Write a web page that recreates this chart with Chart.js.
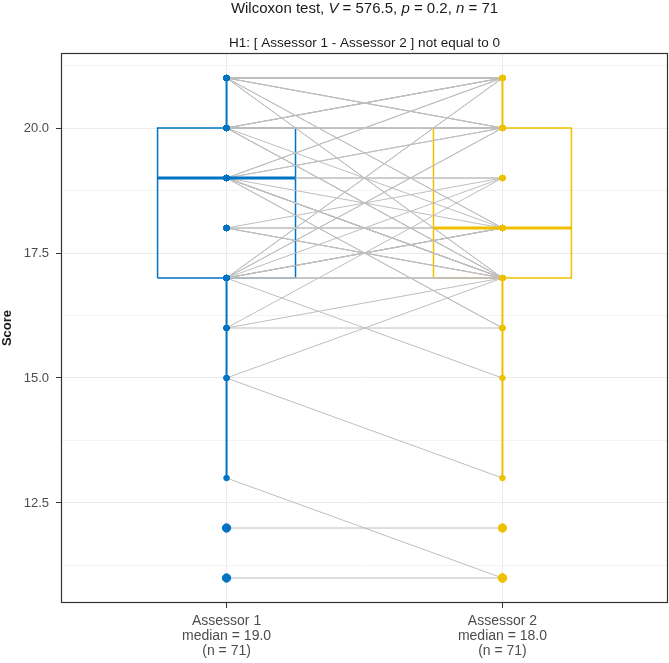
<!DOCTYPE html>
<html>
<head>
<meta charset="utf-8">
<script src="https://cdn.jsdelivr.net/npm/chart.js@4.4.0/dist/chart.umd.min.js"></script>
<style>
  html, body { margin: 0; padding: 0; background: #fff; }
</style>
</head>
<body>
<canvas id="chart" width="669" height="663"></canvas>
<script>
// paired scores, same index = same subject
const groups = ['Assessor 1', 'Assessor 2'];
const assessor1 = [
  21, 21, 21, 21, 21, 21, 21, 21, 21, 21, 21, 21, 21, 21, 21,
  20, 20, 20, 20, 20, 20, 20, 20, 20, 20, 20, 20,
  19, 19, 19, 19, 19, 19, 19, 19, 19, 19, 19, 19, 19, 19, 19, 19,
  18, 18, 18, 18, 18, 18,
  17, 17, 17, 17, 17, 17, 17, 17, 17, 17, 17, 17, 17, 17,
  16, 16, 16, 15, 15, 13, 12, 11
];
const assessor2 = [
  21, 21, 21, 21, 21, 21, 21, 21, 20, 20, 20, 18, 18, 17, 17,
  21, 21, 21, 21, 20, 20, 20, 20, 18, 17, 17, 17,
  21, 21, 20, 20, 19, 19, 18, 17, 17, 17, 17, 17, 17, 17, 16, 16,
  19, 18, 18, 17, 17, 17,
  21, 21, 20, 20, 19, 18, 18, 18, 18, 18, 17, 17, 17, 15,
  19, 17, 16, 17, 13, 11, 12, 11
];
const yMajorTicks = [12.5, 15, 17.5, 20];
const yMinorTicks = [11.25, 13.75, 16.25, 18.75, 21.25];
const titleParts = [
  ['Wilcoxon test, ', false], ['V', true], [' = 576.5, ', false],
  ['p', true], [' = 0.2, ', false], ['n', true], [' = 71', false]
];
const subtitle = 'H1: [ Assessor 1 - Assessor 2 ] not equal to 0';
const groupColors = ['#0073C2', '#EFC000'];

const FONT = "'Liberation Sans', Arial, sans-serif";

// quantile type 7, same as R default
function quantile(sorted, p) {
  const h = (sorted.length - 1) * p;
  const lo = Math.floor(h);
  const hi = Math.min(lo + 1, sorted.length - 1);
  return sorted[lo] + (h - lo) * (sorted[hi] - sorted[lo]);
}

function boxStats(values) {
  const s = values.slice().sort((a, b) => a - b);
  const q1 = quantile(s, 0.25), med = quantile(s, 0.5), q3 = quantile(s, 0.75);
  const iqr = q3 - q1;
  const inside = s.filter(v => v >= q1 - 1.5 * iqr && v <= q3 + 1.5 * iqr);
  return {
    q1, med, q3,
    lo: inside[0], hi: inside[inside.length - 1],
    outliers: s.filter(v => v < q1 - 1.5 * iqr || v > q3 + 1.5 * iqr),
    normal: inside,
    n: s.length
  };
}

const series = [assessor1, assessor2];
const stats = series.map(boxStats);
const boxHalf = 0.25;

const datasets = [];

// points on top
stats.forEach((st, i) => {
  datasets.push({
    data: st.normal.map(v => ({ x: i + 1, y: v })),
    backgroundColor: groupColors[i], borderColor: groupColors[i],
    pointRadius: 2.8, pointHoverRadius: 2.8, order: 0
  });
  datasets.push({
    data: st.outliers.map(v => ({ x: i + 1, y: v })),
    backgroundColor: groupColors[i], borderColor: groupColors[i],
    pointRadius: 4.2, pointHoverRadius: 4.2, order: 0
  });
});

// grey paths joining each pair
assessor1.forEach((a, k) => {
  datasets.push({
    data: [{ x: 1, y: a }, { x: 2, y: assessor2[k] }],
    showLine: true, borderColor: '#BEBEBE', borderWidth: 1,
    pointRadius: 0, order: 2
  });
});

// boxes, medians, whiskers
stats.forEach((st, i) => {
  const x = i + 1;
  const c = groupColors[i];
  datasets.push({
    data: [
      { x: x - boxHalf, y: st.q1 }, { x: x - boxHalf, y: st.q3 },
      { x: x + boxHalf, y: st.q3 }, { x: x + boxHalf, y: st.q1 },
      { x: x - boxHalf, y: st.q1 }
    ],
    showLine: true, borderColor: c, borderWidth: 1.5, pointRadius: 0, order: 4
  });
  // median sits above the grey paths
  datasets.push({
    data: [{ x: x - boxHalf, y: st.med }, { x: x + boxHalf, y: st.med }],
    showLine: true, borderColor: c, borderWidth: 3, pointRadius: 0, order: 1
  });
  datasets.push({
    data: [{ x: x, y: st.q3 }, { x: x, y: st.hi }],
    showLine: true, borderColor: c, borderWidth: 2, pointRadius: 0, order: 3
  });
  datasets.push({
    data: [{ x: x, y: st.q1 }, { x: x, y: st.lo }],
    showLine: true, borderColor: c, borderWidth: 2, pointRadius: 0, order: 3
  });
});

const titlePlugin = {
  id: 'titles',
  afterDraw(chart) {
    const ctx = chart.ctx;
    const area = chart.chartArea;
    const cx = (area.left + area.right) / 2;
    ctx.save();
    ctx.fillStyle = '#1a1a1a';
    ctx.textBaseline = 'middle';
    // main title with italic symbols
    const fontFor = it => (it ? 'italic ' : '') + '15px ' + FONT;
    let total = 0;
    titleParts.forEach(([t, it]) => { ctx.font = fontFor(it); total += ctx.measureText(t).width; });
    let x = cx - total / 2;
    ctx.textAlign = 'left';
    titleParts.forEach(([t, it]) => {
      ctx.font = fontFor(it);
      ctx.fillText(t, x, 9);
      x += ctx.measureText(t).width;
    });
    ctx.font = '13.5px ' + FONT;
    ctx.textAlign = 'center';
    ctx.fillText(subtitle, cx, 43);
    // panel border
    ctx.strokeStyle = '#333333';
    ctx.lineWidth = 1.2;
    ctx.strokeRect(area.left + 0.5, area.top + 0.5, area.right - area.left - 1, area.bottom - area.top - 1);
    ctx.restore();
  }
};

new Chart(document.getElementById('chart'), {
  type: 'scatter',
  data: { datasets },
  options: {
    responsive: false,
    animation: false,
    layout: { autoPadding: false, padding: { top: 53, right: 1, left: 0, bottom: 0 } },
    plugins: { legend: { display: false }, tooltip: { enabled: false } },
    scales: {
      x: {
        type: 'linear', min: 0.4, max: 2.6,
        afterBuildTicks: scale => { scale.ticks = groups.map((g, i) => ({ value: i + 1 })); },
        afterFit: scale => { scale.height = 60; scale.paddingLeft = 0; scale.paddingRight = 0; },
        border: { display: false },
        grid: { color: '#EBEBEB', tickColor: '#333333', tickLength: 5 },
        ticks: {
          color: '#4D4D4D', padding: 6,
          font: { family: FONT, size: 14, lineHeight: 1.07 },
          callback: v => {
            const i = Math.round(v) - 1;
            return [groups[i], 'median = ' + stats[i].med.toFixed(1), '(n = ' + stats[i].n + ')'];
          }
        }
      },
      y: {
        min: 10.5, max: 21.5,
        afterBuildTicks: scale => {
          scale.ticks = yMinorTicks.concat(yMajorTicks).sort((a, b) => a - b).map(v => ({ value: v }));
        },
        afterFit: scale => { scale.width = 61; scale.paddingTop = 0; scale.paddingBottom = 0; },
        border: { display: false },
        grid: {
          color: ctx => yMajorTicks.includes(ctx.tick.value) ? '#EBEBEB' : '#F3F3F3',
          tickColor: ctx => yMajorTicks.includes(ctx.tick.value) ? '#333333' : 'rgba(0,0,0,0)',
          tickLength: 5
        },
        ticks: {
          color: '#4D4D4D', padding: 7,
          font: { family: FONT, size: 13 },
          callback: v => yMajorTicks.includes(v) ? v.toFixed(1) : ''
        },
        title: {
          display: true, text: 'Score', color: '#1a1a1a',
          padding: { top: 0, bottom: 0 },
          font: { family: FONT, size: 13, weight: 'bold' }
        }
      }
    }
  },
  plugins: [titlePlugin]
});
</script>
</body>
</html>
